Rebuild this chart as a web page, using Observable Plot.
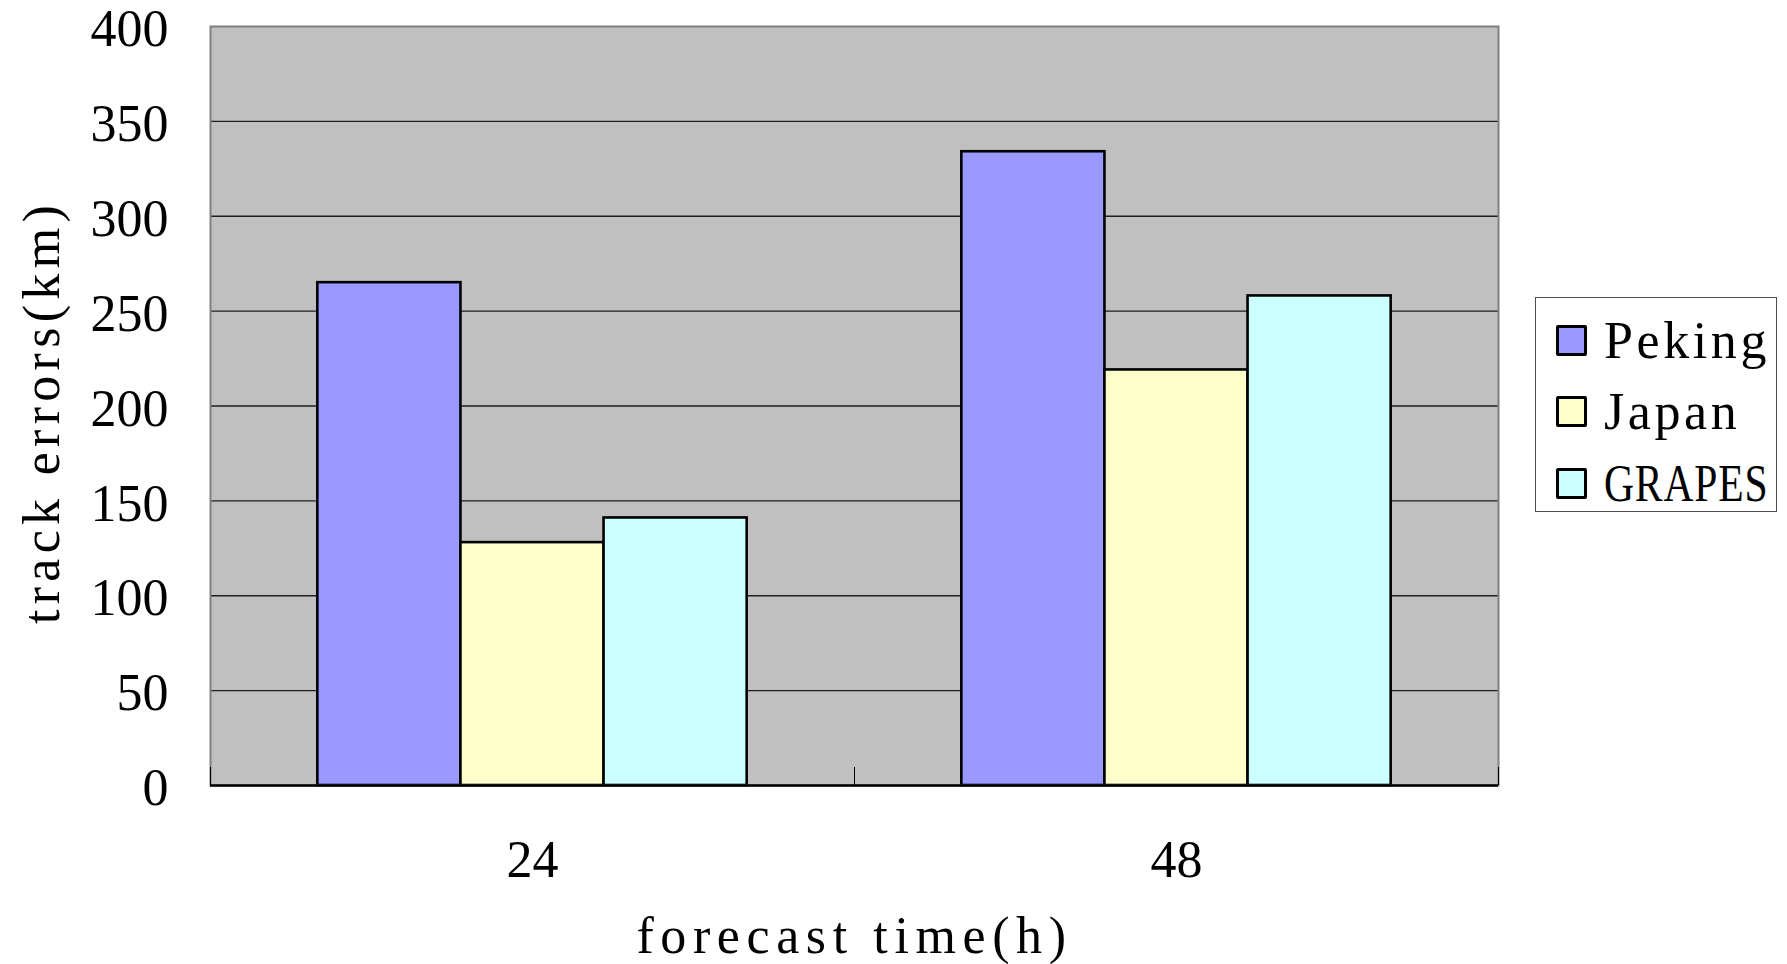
<!DOCTYPE html>
<html>
<head>
<meta charset="utf-8">
<script src="https://cdn.jsdelivr.net/npm/d3@7"></script>
<script src="https://cdn.jsdelivr.net/npm/@observablehq/plot@0.6"></script>
<style>
  html, body { margin: 0; padding: 0; background: #fff; }
  #chart { position: relative; width: 1787px; height: 964px; }
  .legend {
    position: absolute; left: 1535px; top: 297px; width: 242px; height: 215px;
    box-sizing: border-box; border: 1.5px solid #4d4d4d; background: #fff;
    font-family: "Liberation Serif", "Times New Roman", serif; font-size: 52px; color: #000;
  }
  .legend .item { position: absolute; left: 20px; height: 60px; display: flex; align-items: center; white-space: nowrap; }
  .legend .sw { width: 31px; height: 31px; box-sizing: border-box; border: 3px solid #000; border-radius: 2px; margin-right: 17px; flex: none; }
  .legend .lbl { display: inline-block; letter-spacing: 3.6px; transform-origin: left center; }
</style>
</head>
<body>
<div id="chart"></div>
<script>
// Typhoon track errors by forecast lead time
const categories = ["24", "48"];
const seriesNames = ["Peking", "Japan", "GRAPES"];
const peking = [265, 334];
const japan = [128, 219];
const grapes = [141, 258];
const seriesColors = ["#9999ff", "#ffffcc", "#ccffff"];
const yTicks = [0, 50, 100, 150, 200, 250, 300, 350, 400];
const xTitle = "forecast time(h)";
const yTitle = "track errors(km)";

// gap between groups, as a multiple of one bar width
const gapWidth = 1.5;
const values = [peking, japan, grapes];
const slot = 1 / (seriesNames.length + gapWidth);

const rows = [];
categories.forEach((cat, i) => {
  seriesNames.forEach((s, j) => {
    const x1 = i + (gapWidth / 2 + j) * slot;
    rows.push({category: cat, series: s, value: values[j][i], x1, x2: x1 + slot});
  });
});

const font = '"Liberation Serif", "Times New Roman", serif';

const plot = Plot.plot({
  width: 1787,
  height: 964,
  marginLeft: 210,
  marginRight: 289,
  marginTop: 26,
  marginBottom: 179,
  style: {fontFamily: font, fontSize: "52px", color: "#000", background: "#fff", overflow: "visible"},
  x: {domain: [0, categories.length]},
  y: {domain: [yTicks[0], yTicks[yTicks.length - 1]]},
  color: {domain: seriesNames, range: seriesColors},
  marks: [
    Plot.frame({fill: "#c0c0c0"}),
    Plot.ruleY(yTicks.slice(1, -1), {stroke: "#1f1f1f", strokeWidth: 1.3}),
    Plot.rectY(rows, {x1: "x1", x2: "x2", y: "value", fill: "series", stroke: "#000", strokeWidth: 2.6}),
    Plot.frame({stroke: "#808080", strokeWidth: 2}),
    Plot.ruleY([0], {stroke: "#000", strokeWidth: 2.5}),
    // category boundaries get short inward tick marks
    Plot.axisX({ticks: d3.range(categories.length + 1), tickSize: -18, tickFormat: () => "", label: null, stroke: "#000"}),
    Plot.axisX({
      ticks: categories.map((_, i) => i + 0.5),
      tickFormat: (d) => categories[Math.floor(d)],
      tickSize: 0, tickPadding: 55, label: null, fontSize: 52
    }),
    Plot.axisY({ticks: yTicks, tickSize: 0, tickPadding: 42, label: null, fontSize: 52, dy: 3}),
    Plot.text([xTitle], {frameAnchor: "bottom", dy: 151, lineAnchor: "middle", textAnchor: "middle", fontSize: 52}),
    Plot.text([yTitle], {frameAnchor: "left", dx: -168, dy: 6, rotate: -90, lineAnchor: "middle", textAnchor: "middle", fontSize: 52})
  ]
});

// the axis titles are set with wide, even character spacing
d3.select(plot).selectAll("text")
  .filter(function () { return this.textContent === xTitle; })
  .style("letter-spacing", "6.6px");
d3.select(plot).selectAll("text")
  .filter(function () { return this.textContent === yTitle; })
  .style("letter-spacing", "5.3px");

const chart = document.getElementById("chart");
chart.appendChild(plot);

// legend box on the right
const legend = document.createElement("div");
legend.className = "legend";
const rowTops = [12, 83, 155];
seriesNames.forEach((name, j) => {
  const item = document.createElement("div");
  item.className = "item";
  item.style.top = rowTops[j] + "px";
  const sw = document.createElement("span");
  sw.className = "sw";
  sw.style.background = plot.scale("color").apply(name);
  const lbl = document.createElement("span");
  lbl.className = "lbl";
  lbl.textContent = name;
  if (name === "GRAPES") {
    lbl.style.letterSpacing = "1px";
    lbl.style.transform = "scaleX(0.8)";
  }
  item.append(sw, lbl);
  legend.appendChild(item);
});
chart.appendChild(legend);
</script>
</body>
</html>
